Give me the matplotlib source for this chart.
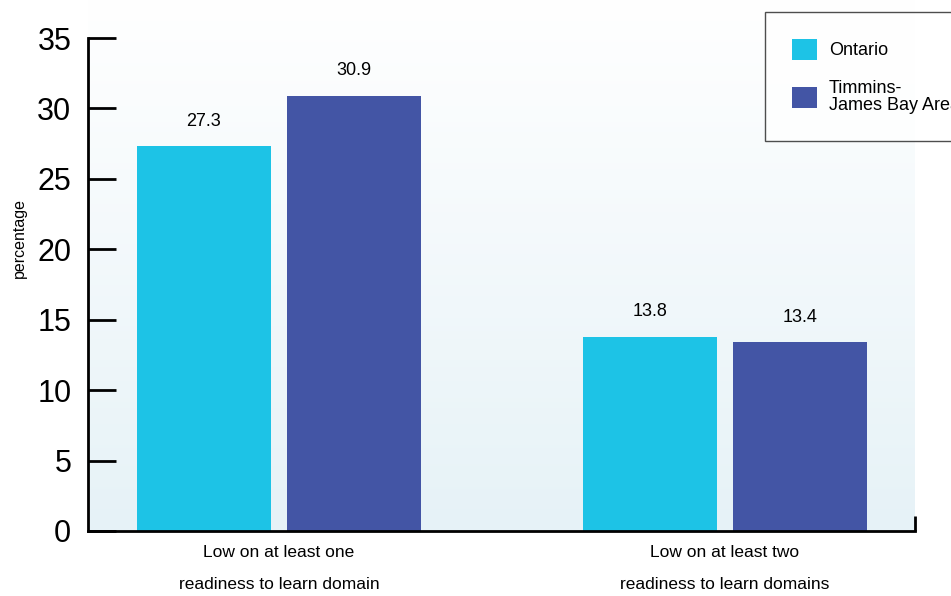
import numpy as np
import matplotlib
matplotlib.use("Agg")
import matplotlib.pyplot as plt
from matplotlib.colors import LinearSegmentedColormap

plt.rcParams['font.family'] = ['Liberation Sans', 'DejaVu Sans']

categories = ["Low on at least one\nreadiness to learn domain",
              "Low on at least two\nreadiness to learn domains"]
series_names = ["Ontario", "Timmins-\nJames Bay Area"]
ontario = [27.3, 13.8]
timmins = [30.9, 13.4]
value_labels_ontario = ["27.3", "13.8"]
value_labels_timmins = ["30.9", "13.4"]
yticks = [0, 5, 10, 15, 20, 25, 30, 35]
colors = ["#1DC3E6", "#4355A5"]

fig = plt.figure(figsize=(9.51, 5.96), dpi=100)
ax = fig.add_axes([88/951, 1 - 531/596, (915-88)/951, (531-38)/596])

x = np.arange(len(categories))
w = 0.30
off = 0.168
xmin, xmax = -0.428, 1.426

# gradient background
grad = np.linspace(0, 1, 256).reshape(-1, 1)
cmap = LinearSegmentedColormap.from_list("bg", ["#E6F2F7", "#FFFFFF"])
ax.imshow(grad, cmap=cmap, origin='lower', aspect='auto',
          extent=[0, 1, 0, 1.08], transform=ax.transAxes, zorder=0, clip_on=False)

b1 = ax.bar(x - off, ontario, w, color=colors[0], label=series_names[0], zorder=2)
b2 = ax.bar(x + off, timmins, w, color=colors[1], label=series_names[1], zorder=2)

for rect, lab in zip(b1, value_labels_ontario):
    ax.annotate(lab, (rect.get_x() + rect.get_width()/2, rect.get_height()),
                xytext=(0, 12), textcoords='offset points', ha='center', va='bottom',
                fontsize=13)
for rect, lab in zip(b2, value_labels_timmins):
    ax.annotate(lab, (rect.get_x() + rect.get_width()/2, rect.get_height()),
                xytext=(0, 12), textcoords='offset points', ha='center', va='bottom',
                fontsize=13)

ax.set_xlim(xmin, xmax)
ax.set_ylim(0, 35)
ax.set_yticks(yticks)
ax.set_yticklabels([str(t) for t in yticks], fontsize=22)
ax.tick_params(axis='y', direction='in', length=20, width=2, pad=12)
ax.set_xticks(x)
ax.set_xticklabels(categories, fontsize=12.5, linespacing=2.45)
ax.tick_params(axis='x', length=0, pad=10)
ax.set_xticks([xmax], minor=True)
ax.tick_params(axis='x', which='minor', direction='in', length=11, width=2)

for s in ['top', 'right']:
    ax.spines[s].set_visible(False)
for s in ['left', 'bottom']:
    ax.spines[s].set_linewidth(2)
ax.spines['bottom'].set_zorder(5)
ax.set_ylabel("percentage", fontsize=11.5)
ax.yaxis.set_label_coords(-61/827, 0.594)
ax.patch.set_alpha(0)

leg = fig.legend(handles=[b1, b2], labels=series_names, loc='upper left',
                 bbox_to_anchor=(765/951, 1 - 12/596), fontsize=13,
                 frameon=True, fancybox=False, edgecolor='#222222',
                 handlelength=1.38, handleheight=1.38, borderpad=1.5,
                 labelspacing=1.15, handletextpad=0.66, borderaxespad=0)
leg.get_frame().set_linewidth(1)
leg.get_frame().set_facecolor('white')
for t in leg.get_texts():
    t.set_linespacing(0.95)

fig.savefig("out.png", dpi=100)
